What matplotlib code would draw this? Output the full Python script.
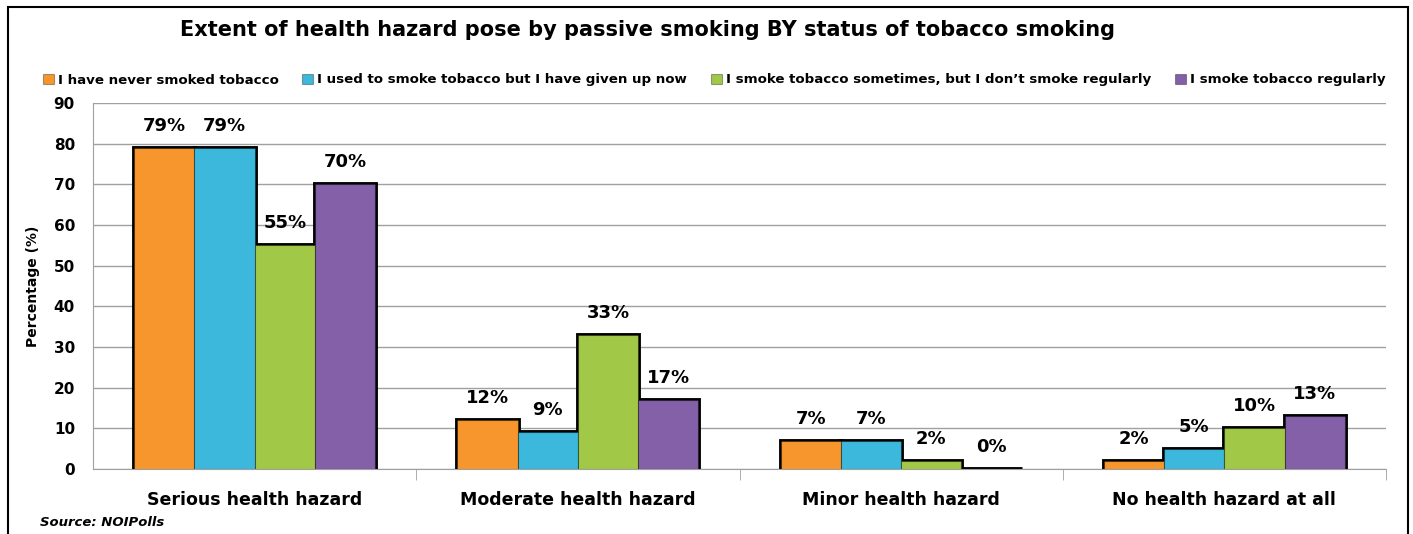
import matplotlib
matplotlib.use("Agg")
import matplotlib.pyplot as plt
import numpy as np
from matplotlib.patches import Rectangle

categories = ["Serious health hazard", "Moderate health hazard", "Minor health hazard", "No health hazard at all"]
series_names = ["I have never smoked tobacco",
                "I used to smoke tobacco but I have given up now",
                "I smoke tobacco sometimes, but I don\u2019t smoke regularly",
                "I smoke tobacco regularly"]
never = [79, 12, 7, 2]
used_to = [79, 9, 7, 5]
sometimes = [55, 33, 2, 10]
regularly = [70, 17, 0, 13]
series_values = [never, used_to, sometimes, regularly]
colors = ["#F7962D", "#3DB8DD", "#A2C847", "#8460A8"]
yticks = [0, 10, 20, 30, 40, 50, 60, 70, 80, 90]

W, H = 1413, 534
fig = plt.figure(figsize=(W / 100, H / 100), dpi=100)
ax = fig.add_axes([93 / W, 65 / H, (1386 - 93) / W, (469 - 103) / H])

x = np.arange(len(categories))
bw = 0.1865
offsets = (np.arange(4) - 1.5) * bw

# shadows
for i, vals in enumerate(series_values):
    ax.bar(x + offsets[i], vals, bw, color="black", edgecolor="black",
           linewidth=3.5, zorder=2)
for i, vals in enumerate(series_values):
    ax.bar(x + offsets[i], vals, bw, color=colors[i], edgecolor="#00000055",
           linewidth=0.8, zorder=3, label=series_names[i])
    for xi, v in zip(x + offsets[i], vals):
        ax.text(xi, v + 3.2, f"{v}%", ha="center", va="bottom", fontsize=13,
                fontweight="bold", color="black", zorder=5)

ax.set_xlim(-0.5, 3.5)
ax.set_ylim(0, 90)
ax.set_yticks(yticks)
ax.set_yticklabels([str(t) for t in yticks], fontsize=11, fontweight="bold")
ax.yaxis.grid(True, color="#A0A0A0", linewidth=1.0, zorder=0)
ax.set_axisbelow(True)
ax.tick_params(axis="y", length=0, pad=13)
ax.set_xticks(x)
ax.set_xticklabels(categories, fontsize=12.5, fontweight="bold")
ax.tick_params(axis="x", length=0, pad=16)
ax.set_xticks([0.5, 1.5, 2.5, 3.5], minor=True)
ax.tick_params(axis="x", which="minor", length=8, color="#A0A0A0")
for s in ["top", "right"]:
    ax.spines[s].set_visible(False)
ax.spines["left"].set_color("#A0A0A0")
ax.spines["bottom"].set_color("#A0A0A0")
ax.set_ylabel("Percentage (%)", fontsize=10, fontweight="bold", labelpad=10)

fig.text(648 / W, 1 - 30 / H, "Extent of health hazard pose by passive smoking BY status of tobacco smoking",
         ha="center", va="center", fontsize=15, fontweight="bold")
fig.legend(loc="center", bbox_to_anchor=(714 / W, 1 - 80 / H), ncol=4, frameon=False,
           handlelength=0.8, handleheight=0.8, handletextpad=0.3,
           columnspacing=1.8, prop={"weight": "bold", "size": 9.6})
fig.text(40 / W, 1 - 522 / H, "Source: NOIPolls", ha="left", va="center", fontsize=9.5,
         fontweight="bold", fontstyle="italic")

# outer border
fig.add_artist(Rectangle((8 / W, -0.1), (1408 - 8) / W, 1.1 - 7 / H, transform=fig.transFigure,
                         fill=False, edgecolor="black", linewidth=1.5))

fig.savefig("out.png", dpi=100)
